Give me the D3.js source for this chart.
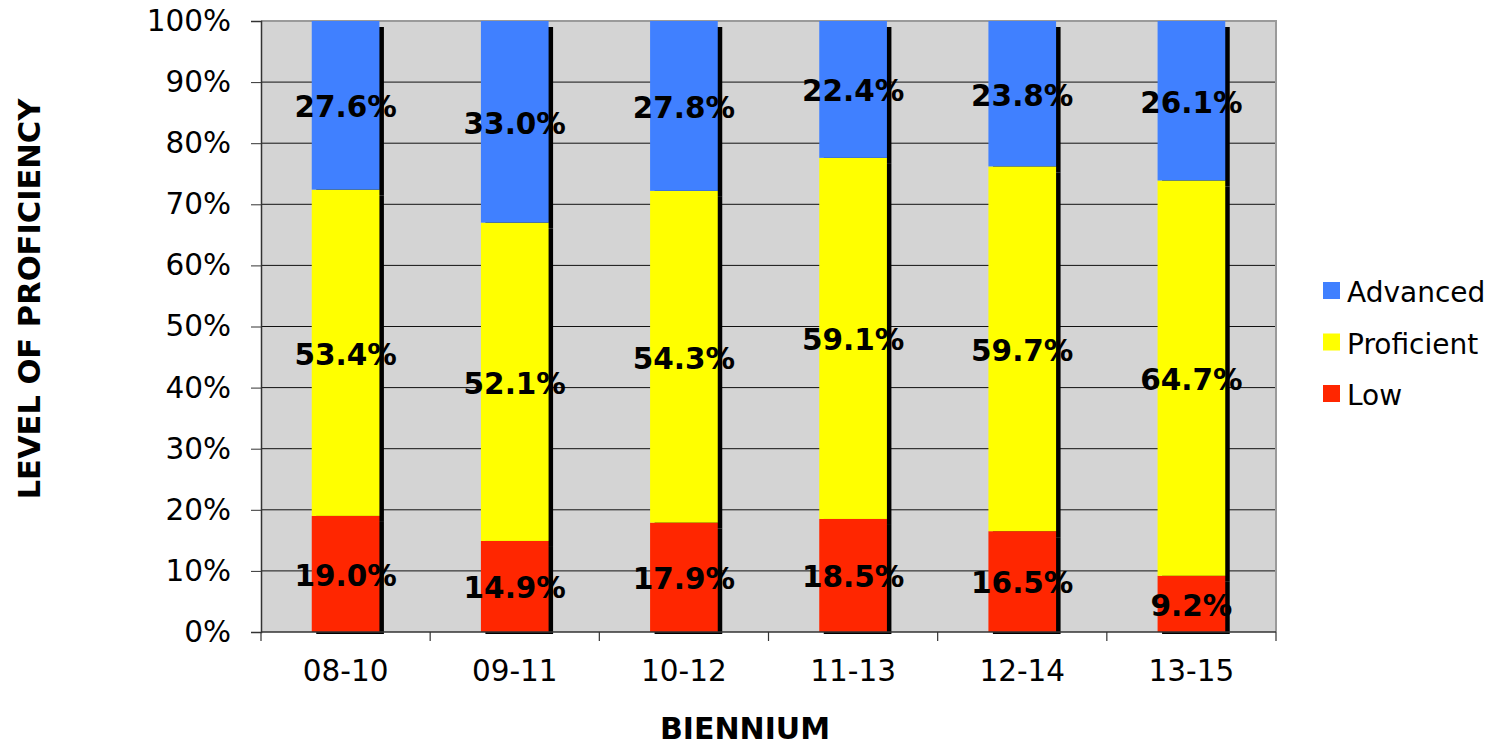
<!DOCTYPE html>
<html><head><meta charset="utf-8">
<script src="https://cdn.jsdelivr.net/npm/d3@7"></script>
<style>
html,body{margin:0;padding:0;background:#fff;}
svg{display:block;}
</style></head>
<body>
<svg id="chart" width="1497" height="746"></svg>
<script>
const categories = ["08-10","09-11","10-12","11-13","12-14","13-15"];
const seriesNames = ["Low","Proficient","Advanced"];
const lowValues = [19.0,14.9,17.9,18.5,16.5,9.2];
const proficientValues = [53.4,52.1,54.3,59.1,59.7,64.7];
const advancedValues = [27.6,33.0,27.8,22.4,23.8,26.1];
const yTicks = [0,10,20,30,40,50,60,70,80,90,100];
const legendOrder = ["Advanced","Proficient","Low"];
const colors = {Low:"#ff2600", Proficient:"#ffff00", Advanced:"#4080ff"};

const svg = d3.select("#chart");
const L = 261, R = 1276, T = 21, B = 632;
const FONT = "'DejaVu Sans', Verdana, sans-serif";

const rows = categories.map((c,i)=>({cat:c, Low:lowValues[i], Proficient:proficientValues[i], Advanced:advancedValues[i]}));
const stack = d3.stack().keys(seriesNames)(rows);

const xOuter = d3.scaleBand().domain(categories).range([L,R]).padding(0);
const x = d3.scaleBand().domain(categories).range([L,R]).paddingInner(0.6).paddingOuter(0.3);
const y = d3.scaleLinear().domain([0,100]).range([B,T]);

// plot background
svg.append("rect").attr("x",L).attr("y",T).attr("width",R-L).attr("height",B-T).attr("fill","#d4d4d4");

// gridlines
svg.append("g").selectAll("line").data(yTicks.filter(t=>t>0&&t<100)).join("line")
  .attr("x1",L).attr("x2",R).attr("y1",d=>y(d)).attr("y2",d=>y(d))
  .attr("stroke","#111").attr("stroke-width",1);

// borders top/right
svg.append("line").attr("x1",L).attr("x2",R+1).attr("y1",T).attr("y2",T).attr("stroke","#9a9a9a").attr("stroke-width",2);
svg.append("line").attr("x1",R).attr("x2",R).attr("y1",T).attr("y2",B).attr("stroke","#9a9a9a").attr("stroke-width",2);

// clip for shadows
svg.append("clipPath").attr("id","clipP").append("rect").attr("x",L).attr("y",T).attr("width",R-L+10).attr("height",B-T+2);

// shadows
const sh = svg.append("g").attr("clip-path","url(#clipP)");
stack.forEach(s=>{
  sh.selectAll(null).data(s).join("rect")
    .attr("x",d=>x(d.data.cat)+4.5)
    .attr("y",d=>y(d[1])+6)
    .attr("width",x.bandwidth())
    .attr("height",d=>y(d[0])-y(d[1]))
    .attr("fill","#000");
});

// bars
stack.forEach(s=>{
  svg.append("g").selectAll("rect").data(s).join("rect")
    .attr("x",d=>x(d.data.cat))
    .attr("y",d=>y(d[1]))
    .attr("width",x.bandwidth())
    .attr("height",d=>y(d[0])-y(d[1]))
    .attr("fill",colors[s.key]);
});

// axes
const yAxis = d3.axisLeft(y).tickValues(yTicks).tickFormat(d=>d+"%").tickSize(10).tickPadding(20);
const gy = svg.append("g").attr("transform",`translate(${L},0)`).call(yAxis);
gy.select(".domain").attr("stroke","#333").attr("stroke-width",1.5);
gy.selectAll(".tick line").attr("stroke","#333");
gy.selectAll("text").attr("font-family",FONT).attr("font-size",29.5).attr("fill","#000");

const xAxis = d3.axisBottom(xOuter).tickSize(0).tickPadding(0);
const gx = svg.append("g").attr("transform",`translate(0,${B})`).call(xAxis);
gx.select(".domain").attr("stroke","#333").attr("stroke-width",1.5).attr("d",`M${L},0H${R}`);
gx.selectAll("text").attr("font-family",FONT).attr("font-size",29.5).attr("fill","#000")
  .attr("dy",null).attr("y",49);
// category boundary ticks
const bounds = categories.map(c=>xOuter(c)).concat([R]);
gx.append("g").selectAll("line").data(bounds).join("line")
  .attr("x1",d=>d).attr("x2",d=>d).attr("y1",0).attr("y2",9).attr("stroke","#333").attr("stroke-width",1.2);

// value labels
const lab = svg.append("g").attr("font-family",FONT).attr("font-weight","bold").attr("font-size",29.5).attr("text-anchor","middle").attr("fill","#000");
stack.forEach(s=>{
  lab.selectAll(null).data(s).join("text")
    .attr("x",d=>x(d.data.cat)+x.bandwidth()/2)
    .attr("y",d=>(y(d[0])+y(d[1]))/2)
    .attr("dy","0.4em")
    .text(d=>(d[1]-d[0]).toFixed(1)+"%");
});

// legend
const lg = svg.append("g");
legendOrder.forEach((k,i)=>{
  const yy = 282 + i*51.5;
  lg.append("rect").attr("x",1323).attr("y",yy).attr("width",17).attr("height",17).attr("fill",colors[k]);
  lg.append("text").attr("x",1347).attr("y",yy+20).attr("font-family",FONT).attr("font-size",28).attr("fill","#000").text(k);
});

// axis titles
svg.append("text").attr("transform","translate(40,299) rotate(-90)").attr("text-anchor","middle")
  .attr("font-family",FONT).attr("font-weight","bold").attr("font-size",30.5).text("LEVEL OF PROFICIENCY");
svg.append("text").attr("x",745).attr("y",739).attr("text-anchor","middle")
  .attr("font-family",FONT).attr("font-weight","bold").attr("font-size",30).text("BIENNIUM");
</script>
</body></html>
